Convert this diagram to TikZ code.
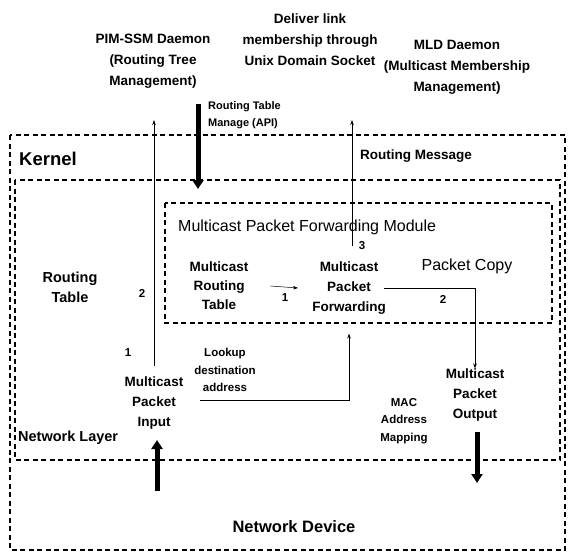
\documentclass[tikz,border=0pt]{standalone}
\usepackage{fontspec}
\setmainfont{Liberation Sans}
\usetikzlibrary{arrows.meta}
\begin{document}
\begin{tikzpicture}[x=1pt,y=-1pt,
  box/.style={draw, dash pattern=on 5pt off 3.5pt, line width=1.1pt},
  lbl/.style={font=\bfseries\fontsize{13.5}{19.5}\selectfont, align=center, inner sep=0pt},
  top/.style={font=\bfseries\fontsize{13.5}{21}\selectfont, align=center, inner sep=0pt},
  small/.style={font=\bfseries\fontsize{11.5}{17.5}\selectfont, align=center, inner sep=0pt},
  big/.style={font=\fontsize{16}{18}\selectfont, inner sep=0pt},
  num/.style={font=\bfseries\fontsize{11.5}{13}\selectfont, inner sep=0pt},
  thinarr/.style={-{Stealth[length=5pt,width=3.5pt]}, line width=0.9pt},
  thickarr/.style={-{Triangle[length=9pt,width=11pt]}, line width=5pt},
]
\useasboundingbox (0,0) rectangle (569,557);

% nested dashed boxes: kernel, network layer, forwarding module
\draw[box] (10,135) rectangle (565,550);
\draw[box] (15,180) rectangle (560,460);
\draw[box] (165,203) rectangle (552,323);

% user-space daemons
\node[top] (pim) at (153,61) {PIM-SSM Daemon\\(Routing Tree\\Management)};
\node[top] (deliver) at (310,40) {Deliver link\\membership through\\Unix Domain Socket};
\node[top] (mld) at (457,67) {MLD Daemon\\(Multicast Membership\\Management)};
\node[small, anchor=west, align=left, font=\bfseries\fontsize{11}{17}\selectfont] (api) at (208,115) {Routing Table\\Manage (API)};

% kernel labels
\node[font=\bfseries\fontsize{18.5}{20}\selectfont, anchor=west, inner sep=0pt] (kernel) at (19,159) {Kernel};
\node[font=\bfseries\fontsize{13.5}{14}\selectfont, anchor=west, inner sep=0pt] (rmsg) at (360,156) {Routing Message};
\node[big, anchor=west] (module) at (178,227) {Multicast Packet Forwarding Module};
\node[lbl, font=\bfseries\fontsize{14.5}{20}\selectfont] (rt) at (70,287) {Routing\\Table};
\node[lbl, font=\bfseries\fontsize{13.5}{19}\selectfont] (mrt) at (219,286) {Multicast\\Routing\\Table};
\node[lbl, font=\bfseries\fontsize{13.5}{20}\selectfont] (fwd) at (349,288) {Multicast\\Packet\\Forwarding};
\node[big] (copy) at (467,266) {Packet Copy};
\node[lbl, font=\bfseries\fontsize{13.5}{20}\selectfont] (in) at (154,403) {Multicast\\Packet\\Input};
\node[small] (lookup) at (225,370) {Lookup\\destination\\address};
\node[lbl, font=\bfseries\fontsize{13.5}{20}\selectfont] (out) at (475,395) {Multicast\\Packet\\Output};
\node[small] (mac) at (404,421) {MAC\\Address\\Mapping};
\node[font=\bfseries\fontsize{14.5}{16}\selectfont, anchor=west, inner sep=0pt] (nl) at (18,438) {Network Layer};
\node[font=\bfseries\fontsize{16.5}{18}\selectfont, inner sep=0pt] (dev) at (294,527) {Network Device};

% step numbers
\node[num] (n1a) at (285,298) {1};
\node[num] (n2a) at (142,293) {2};
\node[num] (n3) at (362,246) {3};
\node[num] (n1b) at (128,353) {1};
\node[num] (n2b) at (443,299) {2};

% free ends of the connectors
\coordinate (pimend) at (154,120);
\coordinate (sockend) at (352,120);
\coordinate (apitop) at (198,104);
\coordinate (apitip) at (198,189);
\coordinate (lk) at (200,400);
\coordinate (devtop) at (157,440);
\coordinate (devbot) at (157,491);
\coordinate (outtop) at (477,432);
\coordinate (outtip) at (477,483);

% connectors
\draw[thinarr] ([yshift=11pt]in.north) -- (pimend);
\draw[thinarr] ([yshift=15pt]fwd.north -| sockend) -- (sockend);
\draw[thickarr] (apitop) -- (apitip);
\draw[thinarr, line width=0.5pt] ([xshift=22pt]mrt.east) -- ([xshift=-14pt]fwd.west);
\draw[thinarr] ([xshift=-2pt]fwd.east) -| (out.north);
\draw[thinarr] (lk) -| ([yshift=-19pt]fwd.south);
\draw[thickarr] (devbot) -- (devtop);
\draw[thickarr] (outtop) -- (outtip);
\end{tikzpicture}
\end{document}
